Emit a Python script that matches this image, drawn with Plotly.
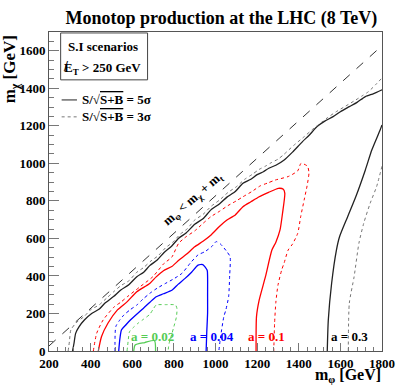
import plotly.graph_objects as go

# kinematic limit m_phi = m_chi + m_t
m_top = 173
limit_x = [200, 1800]

# a = 0.3 (black)
a03_5s_diag_x = [313, 320, 328, 344, 370, 405, 440, 468, 510, 545, 585, 622, 655, 684, 720, 753, 790, 823, 860, 900, 940, 978, 1020, 1055, 1095, 1132, 1170, 1200, 1230, 1256, 1290, 1330, 1370, 1418, 1450, 1488, 1525, 1565, 1600, 1643, 1680, 1720, 1760, 1800]
a03_5s_diag_y = [0, 40, 94, 129, 165, 200, 222, 254, 290, 325, 355, 396, 420, 455, 485, 525, 560, 601, 630, 675, 705, 752, 785, 820, 850, 894, 915, 940, 955, 974, 990, 1018, 1060, 1116, 1150, 1196, 1225, 1249, 1275, 1302, 1325, 1356, 1372, 1392]
a03_3s_diag_x = [292, 298, 305, 330, 370, 400, 440, 480, 515, 545, 585, 620, 655, 690, 725, 760, 795, 830, 865, 900, 940, 980, 1020, 1060, 1100, 1140, 1175, 1210, 1240, 1270, 1300, 1326, 1375, 1426, 1465, 1503, 1540, 1581, 1625, 1674, 1705, 1735, 1770, 1800]
a03_3s_diag_y = [0, 50, 112, 150, 185, 220, 245, 285, 320, 348, 375, 418, 445, 480, 508, 550, 580, 622, 652, 698, 728, 772, 805, 845, 875, 915, 940, 968, 985, 1005, 1022, 1045, 1095, 1142, 1180, 1213, 1245, 1276, 1305, 1338, 1360, 1382, 1420, 1455]
a03_5s_right_x = [1537, 1542, 1558, 1581, 1596, 1635, 1674, 1720, 1751, 1791, 1800]
a03_5s_right_y = [0, 165, 361, 538, 609, 716, 822, 965, 1071, 1178, 1205]
a03_3s_right_x = [1638, 1643, 1666, 1689, 1712, 1743, 1774, 1800]
a03_3s_right_y = [0, 255, 396, 574, 680, 787, 876, 985]

# a = 0.1 (red)
a01_5s_x = [437, 452, 483, 529, 576, 622, 684, 715, 750, 790, 825, 860, 900, 940, 980, 1020, 1055, 1095, 1132, 1170, 1210, 1255, 1302, 1326, 1333, 1322, 1310, 1290, 1271, 1240, 1210, 1197, 1195]
a01_5s_y = [0, 76, 148, 219, 263, 316, 360, 395, 428, 450, 485, 515, 555, 585, 620, 665, 698, 725, 769, 795, 822, 845, 867, 862, 840, 734, 645, 580, 538, 396, 272, 183, 0]
a01_3s_x = [413, 429, 460, 514, 545, 576, 637, 699, 753, 790, 823, 860, 900, 940, 978, 1020, 1060, 1100, 1132, 1175, 1215, 1250, 1287, 1350, 1395, 1411, 1442, 1449, 1440, 1426, 1410, 1395, 1370, 1349, 1330, 1318, 1300, 1290, 1284, 1280]
a01_3s_y = [0, 94, 165, 236, 260, 289, 342, 396, 467, 500, 574, 610, 640, 680, 716, 745, 775, 800, 822, 850, 880, 895, 911, 930, 960, 1000, 985, 950, 880, 805, 720, 627, 570, 538, 470, 432, 350, 260, 150, 0]

# a = 0.04 (blue)
a004_5s_x = [535, 540, 548, 570, 591, 620, 653, 685, 715, 750, 792, 820, 854, 885, 916, 939, 960, 962, 962, 962, 958, 955]
a004_5s_y = [0, 60, 112, 140, 165, 195, 227, 260, 289, 305, 325, 355, 387, 420, 458, 460, 430, 396, 300, 202, 100, 0]
a004_3s_x = [517, 521, 540, 560, 590, 622, 650, 684, 720, 761, 800, 839, 880, 916, 950, 985, 1003, 1024, 1055, 1070, 1068, 1063, 1050, 1040, 1025, 1016]
a004_3s_y = [0, 130, 165, 192, 220, 245, 275, 307, 335, 361, 385, 414, 470, 512, 530, 560, 583, 570, 529, 503, 400, 289, 220, 183, 80, 0]

# a = 0.02 (green)
a002_5s_x = [607, 614, 660, 707, 712]
a002_5s_y = [0, 32, 45, 55, 0]
a002_3s_x = [575, 580, 587, 605, 630, 655, 684, 700, 715, 760, 808, 815, 812, 800, 790, 777, 772]
a002_3s_y = [0, 50, 103, 125, 150, 170, 195, 222, 245, 247, 245, 225, 180, 130, 90, 40, 0]

coupling_labels = ["a = 0.02", "a = 0.04", "a = 0.1", "a = 0.3"]
label_x = [696, 984, 1244, 1642]
label_y = [75, 75, 75, 75]

serif = "Liberation Serif"
black = "#222222"
grey = "#777777"
red = "#ff0000"
blue = "#0000ff"
green = "#55cc55"

fig = go.Figure()

def curve(x, y, color, dotted):
    fig.add_trace(go.Scatter(
        x=x, y=y, mode="lines", showlegend=False, hoverinfo="skip",
        line=dict(color=color, width=1 if dotted else 1.3,
                  dash="dot" if dotted else "solid", shape="spline", smoothing=0.6)))

fig.add_trace(go.Scatter(x=limit_x, y=[v - m_top for v in limit_x], mode="lines", hoverinfo="skip",
                         showlegend=False, line=dict(color="#333333", width=1, dash="dash")))

curve(a03_5s_diag_x, a03_5s_diag_y, black, False)
curve(a03_3s_diag_x, a03_3s_diag_y, grey, True)
curve(a03_5s_right_x, a03_5s_right_y, black, False)
curve(a03_3s_right_x, a03_3s_right_y, grey, True)
curve(a01_5s_x, a01_5s_y, red, False)
curve(a01_3s_x, a01_3s_y, red, True)
curve(a004_5s_x, a004_5s_y, blue, False)
curve(a004_3s_x, a004_3s_y, blue, True)
curve(a002_5s_x, a002_5s_y, green, False)
curve(a002_3s_x, a002_3s_y, green, True)

colors = [green, blue, red, "#000000"]
for txt, lx, ly, c in zip(coupling_labels, label_x, label_y, colors):
    fig.add_annotation(x=lx, y=ly, text=txt, showarrow=False, xanchor="center", yanchor="middle",
                       font=dict(family=serif, size=13, color=c, weight="bold"))

fig.add_annotation(x=890, y=810, text="m<sub>φ</sub> < m<sub>χ</sub> + m<sub>t</sub>", showarrow=False,
                   xanchor="center", yanchor="middle", textangle=-41,
                   font=dict(family=serif, size=13, color="#000000", weight="bold"))

# legend box
fig.add_shape(type="rect", xref="paper", yref="paper", x0=0.035, x1=0.296, y0=0.850, y1=0.997,
              line=dict(color="#444444", width=1), fillcolor="white")
fig.add_annotation(xref="paper", yref="paper", x=0.162, y=0.956, text="S.I scenarios", showarrow=False,
                   xanchor="center", yanchor="middle",
                   font=dict(family=serif, size=13, color="#000000", weight="bold"))
fig.add_annotation(xref="paper", yref="paper", x=0.162, y=0.887, text="E<sub>T</sub> > 250 GeV", showarrow=False,
                   xanchor="center", yanchor="middle",
                   font=dict(family=serif, size=13, color="#000000", weight="bold"))
# slash through the E (missing transverse energy)
fig.add_annotation(xref="paper", yref="paper", x=0.05, y=0.892, text="/", showarrow=False,
                   xanchor="center", yanchor="middle",
                   font=dict(family=serif, size=14, color="#000000", weight="bold"))
for yy, dash, sig in [(0.787, "solid", "5σ"), (0.734, "dot", "3σ")]:
    fig.add_shape(type="line", xref="paper", yref="paper", x0=0.038, x1=0.084, y0=yy, y1=yy,
                  line=dict(color=black if dash == "solid" else grey, width=1, dash=dash))
    fig.add_annotation(xref="paper", yref="paper", x=0.093, y=yy, xanchor="left", yanchor="middle",
                       text="S/√<span style='text-decoration:overline'>S+B</span> = " + sig, showarrow=False,
                       font=dict(family=serif, size=13, color="#000000", weight="bold"))

# axis titles, ROOT style
fig.add_annotation(xref="paper", yref="paper", x=1.003, y=-0.078, xanchor="right", yanchor="middle",
                   text="m<sub>φ</sub> [GeV]", showarrow=False,
                   font=dict(family=serif, size=16, color="#000000", weight="bold"))
fig.add_annotation(xref="paper", yref="paper", x=-0.115, y=0.995, xanchor="center", yanchor="top",
                   textangle=-90, text="m<sub>χ</sub> [GeV]", showarrow=False,
                   font=dict(family=serif, size=17, color="#000000", weight="bold"))

axis_common = dict(showgrid=False, zeroline=False, showline=True, mirror=True, linecolor="#555555",
                   linewidth=1, ticks="inside", tickcolor=grey,
                   tickfont=dict(family=serif, size=13, color="#000000", weight="bold"))
fig.update_xaxes(range=[200, 1800], dtick=200, tick0=200, ticklen=8,
                 minor=dict(dtick=40, ticklen=4, tickcolor=grey, ticks="inside"), **axis_common)
fig.update_yaxes(range=[0, 1700], dtick=200, tick0=0, ticklen=10,
                 minor=dict(dtick=50, ticklen=5, tickcolor=grey, ticks="inside"), **axis_common)

fig.update_layout(
    width=407, height=387,
    margin=dict(l=49, r=13, t=32, b=36),
    plot_bgcolor="white", paper_bgcolor="white",
    title=dict(text="Monotop production at the LHC (8 TeV)", x=0.544, xanchor="center", y=0.953, yanchor="middle",
               font=dict(family=serif, size=18, color="#000000", weight="bold")),
)

fig.write_html("out.html", config={"displayModeBar": False},
               post_script="document.body.style.margin='0px';")
